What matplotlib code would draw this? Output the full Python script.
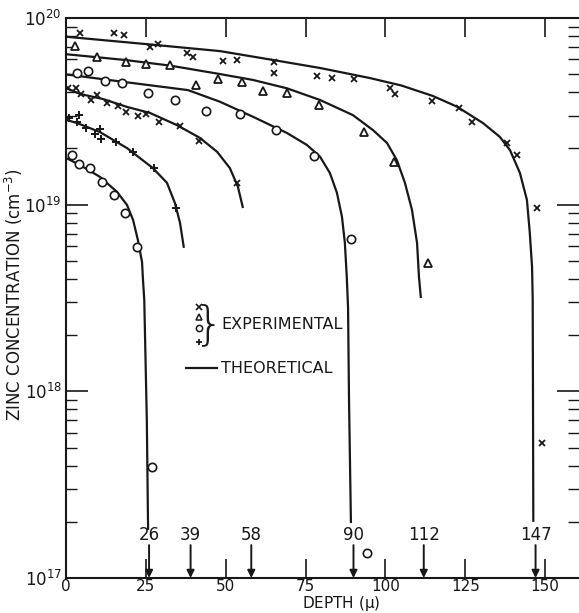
import matplotlib
matplotlib.use("Agg")
import matplotlib.pyplot as plt
from matplotlib import font_manager

INK = "#181818"
names = {f.name for f in font_manager.fontManager.ttflist}
NARROW = "Liberation Sans Narrow" if "Liberation Sans Narrow" in names else "DejaVu Sans"

plt.rcParams.update({
    "font.family": [NARROW, "DejaVu Sans"],
    "mathtext.fontset": "custom",
    "mathtext.rm": NARROW,
    "mathtext.it": NARROW,
    "figure.dpi": 100,
})

# ---- theoretical curves (depth in microns, concentration in cm^-3) ----
depth_147 = [0, 24.7, 48.2, 64.8, 79.5, 95.1, 105.0, 114.9, 122.4, 130.5, 135.8, 139.0, 142.1,
             144.3, 145.2, 145.9, 146.1, 146.2, 146.3]
conc_147 = [7.94e19, 7.26e19, 6.65e19, 5.96e19, 5.40e19, 4.77e19, 4.35e19, 3.82e19, 3.35e19, 2.74e19,
            2.31e19, 1.96e19, 1.48e19, 1.06e19, 7.05e18, 4.64e18, 3.16e18, 9.0e17, 2.0e17]

depth_112 = [0, 18.5, 32.6, 48.2, 58.5, 69.2, 79.5, 89.8, 96.1, 100.5, 103.6, 106.1, 108.3,
             109.9, 110.5, 111.1]
conc_112 = [6.4e19, 5.96e19, 5.56e19, 5.01e19, 4.66e19, 4.2e19, 3.64e19, 3.02e19, 2.51e19, 2.14e19,
            1.73e19, 1.31e19, 9.4e18, 6.24e18, 4.1e18, 3.16e18]

depth_90 = [0, 17.5, 38.2, 48.2, 58.5, 69.2, 75.4, 79.5, 82.6, 84.8, 86.4, 87.3, 87.9, 88.3,
            88.6, 89.2]
conc_90 = [4.99e19, 4.56e19, 4.11e19, 3.56e19, 2.96e19, 2.42e19, 2.09e19, 1.81e19, 1.48e19, 1.16e19,
           8.6e18, 6.24e18, 4.1e18, 2.8e18, 9.0e17, 1.97e17]

depth_58 = [0, 4.4, 11.6, 19.1, 26.3, 34.7, 41.9, 47.3, 51.3, 53.8, 55.4]
conc_58 = [4.22e19, 3.92e19, 3.68e19, 3.34e19, 3.10e19, 2.67e19, 2.28e19, 1.92e19, 1.57e19, 1.25e19, 9.6e18]

depth_39 = [0, 3.4, 10.6, 19.1, 27.2, 31.6, 34.1, 35.7, 36.9]
conc_39 = [2.85e19, 2.74e19, 2.45e19, 2.01e19, 1.57e19, 1.31e19, 1.02e19, 7.98e18, 5.87e18]

depth_26 = [0, 4.4, 10.6, 16.0, 19.1, 21.0, 22.5, 23.8, 24.1, 24.5, 25.3, 25.7]
conc_26 = [1.78e19, 1.63e19, 1.41e19, 1.17e19, 9.96e18, 8.28e18, 6.47e18, 4.93e18, 3.95e18, 3.09e18,
           7.0e17, 1.81e17]

# ---- experimental points ----
x_hi_depth = [4.4, 15.0, 18.2, 26.3, 28.8, 37.9, 39.7, 49.1, 53.5, 65.1, 65.1, 78.6, 83.3, 90.1,
              101.4, 103.0, 114.6, 123.0, 127.1, 138.0, 141.2, 147.4, 149.0]
x_hi_conc = [8.3e19, 8.3e19, 8.1e19, 7.0e19, 7.26e19, 6.5e19, 6.19e19, 5.89e19, 5.96e19, 5.8e19, 5.07e19,
             4.89e19, 4.77e19, 4.71e19, 4.22e19, 3.92e19, 3.59e19, 3.30e19, 2.77e19, 2.14e19, 1.84e19,
             9.6e18, 5.3e17]

tri_depth = [2.8, 9.7, 18.8, 25.0, 32.6, 40.7, 47.6, 55.1, 61.7, 69.2, 79.2, 93.3, 102.7, 113.3]
tri_conc = [7.08e19, 6.18e19, 5.81e19, 5.67e19, 5.6e19, 4.38e19, 4.71e19, 4.54e19, 4.06e19, 3.96e19,
            3.42e19, 2.45e19, 1.69e19, 4.87e18]

circ_hi_depth = [3.4, 6.9, 12.2, 17.5, 25.7, 34.1, 43.8, 54.5, 65.7, 77.6, 89.2, 94.2]
circ_hi_conc = [5.07e19, 5.2e19, 4.6e19, 4.49e19, 3.97e19, 3.64e19, 3.18e19, 3.06e19, 2.51e19, 1.82e19,
                6.55e18, 1.36e17]

x_lo_depth = [0.6, 3.1, 4.7, 7.8, 9.7, 12.8, 16.3, 18.8, 22.5, 25.0, 29.1, 35.7, 41.6, 53.5]
x_lo_conc = [4.22e19, 4.22e19, 3.92e19, 3.64e19, 3.87e19, 3.51e19, 3.38e19, 3.14e19, 2.99e19, 3.06e19,
             2.77e19, 2.64e19, 2.19e19, 1.31e19]

plus_depth = [0.9, 4.1, 3.4, 6.3, 9.1, 10.6, 11.0, 15.6, 21.0, 27.5, 34.4]
plus_conc = [2.91e19, 3.02e19, 2.77e19, 2.58e19, 2.39e19, 2.54e19, 2.25e19, 2.17e19, 1.92e19, 1.57e19, 9.6e18]

circ_lo_depth = [1.9, 4.1, 7.5, 11.3, 15.0, 18.5, 22.2, 26.9]
circ_lo_conc = [1.85e19, 1.65e19, 1.57e19, 1.32e19, 1.13e19, 9.0e18, 5.93e18, 3.94e17]

junction_depths = [26, 39, 58, 90, 112, 147]
x_ticks = [0, 25, 50, 75, 100, 125, 150]

fig = plt.figure(figsize=(5.79, 6.13))
ax = fig.add_axes([0.114, 0.0571, 0.886, 0.9135])

for d, c in [(depth_147, conc_147), (depth_112, conc_112), (depth_90, conc_90),
             (depth_58, conc_58), (depth_39, conc_39), (depth_26, conc_26)]:
    ax.plot(d, c, color=INK, lw=1.6, solid_capstyle="butt", solid_joinstyle="round", zorder=2)

mk = dict(linestyle="none", color=INK, zorder=3)
ax.plot(x_hi_depth, x_hi_conc, marker="x", ms=5, mew=1.3, **mk)
ax.plot(x_lo_depth, x_lo_conc, marker="x", ms=5, mew=1.3, **mk)
ax.plot(tri_depth, tri_conc, marker="^", ms=6, mew=1.3, mfc="white", **mk)
ax.plot(circ_hi_depth, circ_hi_conc, marker="o", ms=6, mew=1.2, mfc="white", **mk)
ax.plot(circ_lo_depth, circ_lo_conc, marker="o", ms=6, mew=1.2, mfc="white", **mk)
ax.plot(plus_depth, plus_conc, marker="+", ms=6, mew=1.4, **mk)

# junction depth arrows
for d in junction_depths:
    ax.annotate("", xy=(d, 1e17), xytext=(d, 1.5e17),
                arrowprops=dict(arrowstyle="-|>", color=INK, lw=1.4,
                                mutation_scale=11, shrinkA=0, shrinkB=0))
    ax.text(d, 1.52e17, str(d), ha="center", va="bottom", fontsize=12, color=INK)

# hand-drawn style key
tr = ax.transAxes
ax.plot([0.259], [0.484], marker="x", ms=4, mew=1.2, transform=tr, **mk)
ax.plot([0.259], [0.466], marker="^", ms=4.5, mew=1.1, mfc="white", transform=tr, **mk)
ax.plot([0.259], [0.446], marker="o", ms=4.5, mew=1.1, mfc="white", transform=tr, **mk)
ax.plot([0.259], [0.421], marker="+", ms=5, mew=1.3, transform=tr, **mk)
ax.text(0.279, 0.452, "}", transform=tr, fontsize=34, ha="center", va="center",
        color=INK, family="DejaVu Sans", fontweight="light")
ax.text(0.303, 0.452, "EXPERIMENTAL", transform=tr, fontsize=11.5, va="center", color=INK)
ax.plot([0.234, 0.294], [0.375, 0.375], color=INK, lw=1.6, transform=tr)
ax.text(0.303, 0.375, "THEORETICAL", transform=tr, fontsize=11.5, va="center", color=INK)

ax.set_yscale("log")
ax.set_ylim(1e17, 1e20)
ax.set_xlim(0, 160.6)
ax.set_xticks(x_ticks)
ax.set_xticklabels([str(t) for t in x_ticks], fontsize=11)
ax.set_yticks([1e17, 1e18, 1e19, 1e20])
ax.set_yticklabels(["10$^{17}$", "10$^{18}$", "10$^{19}$", "10$^{20}$"], fontsize=12)

ax.tick_params(axis="x", which="major", direction="in", top=True, bottom=True,
               length=14, width=1.2, pad=1, colors=INK)
ax.tick_params(axis="y", which="major", direction="in", left=True, right=True,
               length=16, width=1.2, pad=3, colors=INK)
ax.tick_params(axis="y", which="minor", direction="in", left=True, right=True,
               length=8, width=1.0, colors=INK)
ax.tick_params(axis="y", which="minor", labelleft=False)

for side in ["left", "top", "bottom"]:
    ax.spines[side].set_linewidth(1.5)
    ax.spines[side].set_color(INK)
ax.spines["right"].set_visible(False)

ax.set_ylabel("ZINC CONCENTRATION (cm$^{-3}$)", fontsize=12, color=INK)
ax.yaxis.set_label_coords(-0.080, 0.507)
ax.set_xlabel(r"DEPTH ($\mu$)", fontsize=11, color=INK, va="center")
ax.xaxis.set_label_coords(0.536, -0.0455)

fig.savefig("out.png", dpi=100)
